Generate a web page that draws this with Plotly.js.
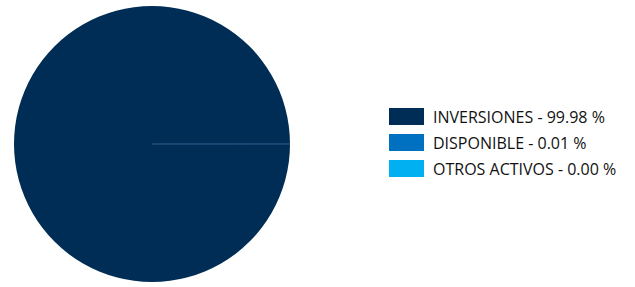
<!DOCTYPE html>
<html><head><meta charset="utf-8">
<script src="https://cdn.plot.ly/plotly-3.0.1.min.js"></script>
<style>html,body{margin:0;padding:0;background:#fff;}#chart{width:635px;height:287px;}</style>
</head><body><div id="chart"></div>
<script>
const labels = ["INVERSIONES", "DISPONIBLE", "OTROS ACTIVOS"];
const values = [99.98, 0.01, 0.00];
const colors = ["#002d55", "#0070c0", "#00b0f0"];

const W = 635, H = 287;
const px = x => x / W;
const py = y => 1 - y / H;

const shapes = [], annotations = [];
const rowTop = [108, 134, 160];
labels.forEach((l, i) => {
  shapes.push({type: 'rect', xref: 'paper', yref: 'paper',
    x0: px(389), x1: px(424), y0: py(rowTop[i]), y1: py(rowTop[i] + 17),
    fillcolor: colors[i], line: {width: 0}});
  annotations.push({xref: 'paper', yref: 'paper', x: px(431), y: py(rowTop[i] + 8.5),
    xanchor: 'left', yanchor: 'middle', showarrow: false,
    text: l + ' - ' + values[i].toFixed(2) + ' %',
    font: {family: 'Open Sans', size: 16, color: '#111'}});
});

Plotly.newPlot('chart', [{
  type: 'pie', labels: labels, values: values, sort: false,
  marker: {colors: colors, line: {width: [0, 0.6, 0], color: ['#002d55', '#2e6294', '#00b0f0']}},
  textinfo: 'none', hoverinfo: 'label+percent',
  rotation: 90, direction: 'counterclockwise',
  domain: {x: [px(14), px(290)], y: [py(282), py(6)]},
  showlegend: false
}], {
  width: W, height: H, margin: {l: 0, r: 0, t: 0, b: 0},
  paper_bgcolor: '#fff', showlegend: false,
  shapes: shapes, annotations: annotations
}, {staticPlot: true});
</script></body></html>
